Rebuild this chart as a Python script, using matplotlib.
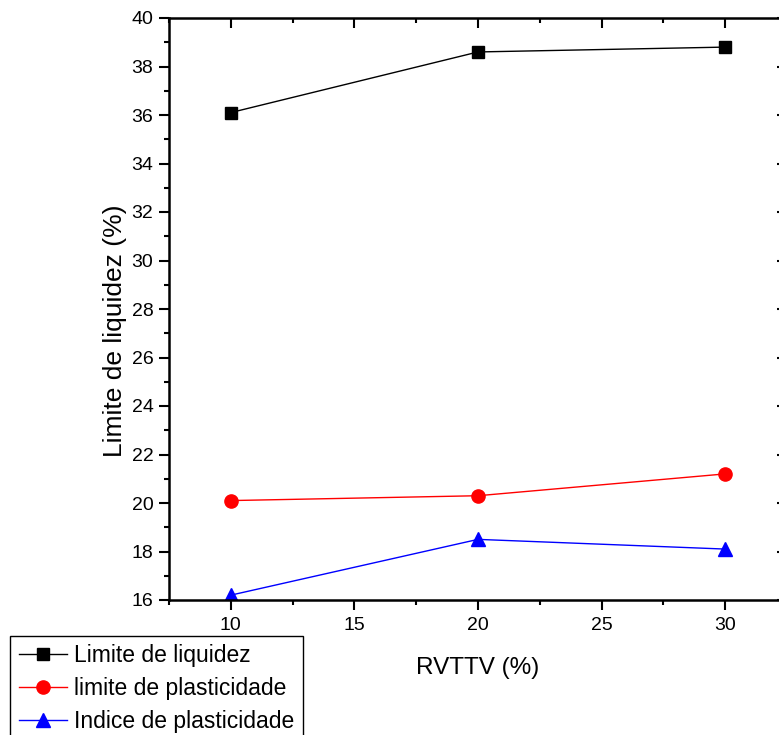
import matplotlib
matplotlib.use("Agg")
import matplotlib.pyplot as plt
from matplotlib.ticker import MultipleLocator

plt.rcParams['font.family'] = ['Liberation Sans', 'DejaVu Sans']

rvttv = [10, 20, 30]
limite_liquidez = [36.1, 38.6, 38.8]
limite_plasticidade = [20.1, 20.3, 21.2]
indice_plasticidade = [16.2, 18.5, 18.1]
labels = ["Limite de liquidez", "limite de plasticidade", "Indice de plasticidade"]

W, H = 779, 735
fig = plt.figure(figsize=(W / 100, H / 100), dpi=100)
ax_l, ax_r, ax_t, ax_b = 169, 787, 18, 600
ax = fig.add_axes([ax_l / W, 1 - ax_b / H, (ax_r - ax_l) / W, (ax_b - ax_t) / H])

ax.plot(rvttv, limite_liquidez, color='black', lw=1.0, marker='s', ms=8, label=labels[0])
ax.plot(rvttv, limite_plasticidade, color='red', lw=1.0, marker='o', ms=9.5, label=labels[1])
ax.plot(rvttv, indice_plasticidade, color='blue', lw=1.0, marker='^', ms=10.5, label=labels[2])

ax.set_xlim(7.5, 32.5)
ax.set_ylim(16, 40)
ax.xaxis.set_major_locator(MultipleLocator(5))
ax.xaxis.set_minor_locator(MultipleLocator(2.5))
ax.yaxis.set_major_locator(MultipleLocator(2))
ax.yaxis.set_minor_locator(MultipleLocator(1))

for s in ax.spines.values():
    s.set_linewidth(1.8)

ax.tick_params(axis='both', which='major', labelsize=14, width=1.5)
ax.tick_params(axis='x', which='major', direction='out', length=7.2, pad=5)
ax.tick_params(axis='x', which='minor', direction='out', length=3.6, width=1.5)
ax.tick_params(axis='y', which='major', direction='out', length=7.2, pad=4)
ax.tick_params(axis='y', which='minor', direction='out', length=3.6, width=1.5)

# top ticks (inward)
secx = ax.secondary_xaxis('top')
secx.xaxis.set_major_locator(MultipleLocator(5))
secx.xaxis.set_minor_locator(MultipleLocator(2.5))
secx.tick_params(which='major', direction='in', length=7.2, width=1.5, labeltop=False)
secx.tick_params(which='minor', direction='in', length=3.6, width=1.5)
secx.spines['top'].set_visible(False)

# right ticks (inward, major only)
secy = ax.secondary_yaxis('right')
secy.yaxis.set_major_locator(MultipleLocator(2))
secy.tick_params(which='major', direction='in', length=7, width=1.5, labelright=False)
secy.tick_params(which='minor', length=0)
secy.spines['right'].set_visible(False)

fig.text(115 / W, 1 - 331 / H, "Limite de liquidez (%)", rotation=90,
         ha='center', va='center', fontsize=19)
fig.text(477.5 / W, 1 - 668 / H, "RVTTV (%)", ha='center', va='center', fontsize=17.5)

leg = fig.legend(loc='upper left', bbox_to_anchor=(10.5 / W, 1 - 636 / H),
                 bbox_transform=fig.transFigure, borderaxespad=0,
                 fontsize=16.5, frameon=True, fancybox=False, framealpha=1,
                 edgecolor='black', handlelength=2.1, handletextpad=0.3,
                 borderpad=0.37, labelspacing=0.42)
leg.get_frame().set_linewidth(1.0)

fig.savefig('out.png', dpi=100)
